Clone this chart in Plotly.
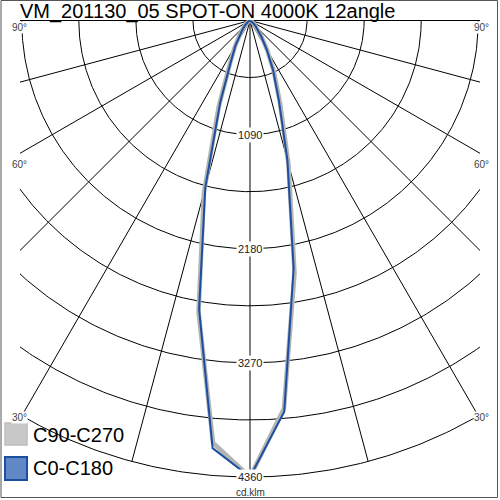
import numpy as np
import plotly.graph_objects as go

# ---------------- data ----------------
title_text = "VM_201130_05 SPOT-ON 4000K 12angle"
angles = [0, 5, 10, 15, 20, 25, 30, 35, 40, 45, 50, 55, 60, 65, 70, 75, 80, 85, 90]
# C0-C180 plane (blue)
c0   = [4360, 3750, 2400, 1380, 800, 520, 320, 190, 120, 75, 45, 28, 18, 10, 6, 4, 2, 1, 0]
c180 = [4360, 4100, 2800, 1650, 830, 430, 280, 170, 110, 70, 42, 26, 16, 10, 6, 4, 2, 1, 0]
# C90-C270 plane (grey)
c90  = [4360, 3720, 2450, 1420, 840, 540, 330, 195, 125, 78, 47, 29, 18, 10, 6, 4, 2, 1, 0]
c270 = [4360, 4050, 2830, 1700, 870, 450, 290, 175, 112, 72, 43, 27, 16, 10, 6, 4, 2, 1, 0]
series_names = ["C90-C270", "C0-C180"]
ring_values = [545, 1090, 1635, 2180, 2725, 3270, 3815, 4360]
ring_labels = ["1090", "2180", "3270", "4360"]
spoke_angles = list(range(-90, 91, 15))
angle_labels = ["90°", "60°", "30°"]
unit_label = "cd.klm"

# ---------------- geometry helpers ----------------
W = H = 500
L, R, T, B = 20, 20, 20, 20
k = 456.5 / 4360.0  # px per cd
xhalf = (W - L - R) / 2 / k
ytop = 0.5 / k
ybot = -(H - T - B - 0.5) / k


def px(xp):
    return (xp - L) / (W - L - R)


def py(yp):
    return 1 - (yp - T) / (H - T - B)


def polar_xy(ang_deg, r):
    a = np.radians(np.asarray(ang_deg, dtype=float))
    r = np.asarray(r, dtype=float)
    return r * np.sin(a), -r * np.cos(a)


fig = go.Figure()

# grid rings
t = np.linspace(-90, 90, 361)
for rv in ring_values:
    gx, gy = polar_xy(t, np.full_like(t, rv))
    fig.add_trace(go.Scatter(x=gx, y=gy, mode="lines", line=dict(color="black", width=1),
                             hoverinfo="skip", showlegend=False))
# spokes
for a in spoke_angles:
    sx, sy = polar_xy([a, a], [0, ring_values[-1]])
    fig.add_trace(go.Scatter(x=sx, y=sy, mode="lines", line=dict(color="black", width=1),
                             hoverinfo="skip", showlegend=False))


def curve(left, right):
    ang = [-a for a in angles[::-1]] + angles[1:]
    vals = left[::-1] + right[1:]
    return polar_xy(ang, vals)


gx, gy = curve(c270, c90)
fig.add_trace(go.Scatter(x=gx, y=gy, mode="lines", name=series_names[0],
                         line=dict(color="#b4b4b4", width=4.5), showlegend=False))
bx, by = curve(c180, c0)
fig.add_trace(go.Scatter(x=bx, y=by, mode="lines", name=series_names[1],
                         line=dict(color="#1c4f9f", width=2), showlegend=False))

annotations = []
for i, lab in enumerate(ring_labels):
    annotations.append(dict(x=0, y=-float(lab), xref="x", yref="y", text=lab, showarrow=False,
                            font=dict(family="Liberation Sans, Arial", size=11, color="#222"),
                            bgcolor="white", borderpad=1))
annotations.append(dict(x=0, y=-4360, xref="x", yref="y", text=unit_label, showarrow=False,
                        yshift=-15, font=dict(family="Liberation Sans, Arial", size=10, color="#333")))

# angle labels
for lab, yp in zip(angle_labels, [21, 158, 424]):
    annotations.append(dict(x=px(11), y=py(yp), xref="paper", yref="paper", text=lab, showarrow=False,
                            font=dict(family="Liberation Sans, Arial", size=10, color="#444"),
                            bgcolor="white", borderpad=0))
    annotations.append(dict(x=px(490), y=py(yp), xref="paper", yref="paper", text=lab, showarrow=False,
                            font=dict(family="Liberation Sans, Arial", size=10, color="#444"),
                            bgcolor="white", borderpad=0))

# title
annotations.append(dict(x=px(19), y=py(11), xref="paper", yref="paper", text=title_text,
                        showarrow=False, xanchor="left", yanchor="middle", borderpad=0,
                        font=dict(family="Liberation Sans, Arial", size=20, color="black")))

# legend texts
annotations.append(dict(x=px(31), y=py(435), xref="paper", yref="paper", text=series_names[0],
                        showarrow=False, xanchor="left", yanchor="middle",
                        font=dict(family="Liberation Sans, Arial", size=20, color="black")))
annotations.append(dict(x=px(31), y=py(468), xref="paper", yref="paper", text=series_names[1],
                        showarrow=False, xanchor="left", yanchor="middle",
                        font=dict(family="Liberation Sans, Arial", size=20, color="black")))

shapes = [
    dict(type="rect", xref="paper", yref="paper", x0=px(5), x1=px(27), y0=py(445), y1=py(423),
         fillcolor="#c8c8c8", line=dict(color="#bdbdbd", width=1.5), layer="above"),
    dict(type="rect", xref="paper", yref="paper", x0=px(5), x1=px(27), y0=py(480), y1=py(457),
         fillcolor="#6088c6", line=dict(color="#1c4f9f", width=2), layer="above"),
    dict(type="rect", xref="paper", yref="paper", x0=px(1), x1=px(497.5), y0=py(497.5), y1=py(0.5),
         fillcolor="rgba(0,0,0,0)", line=dict(color="#555", width=1), layer="above"),
]

fig.update_layout(
    width=W, height=H,
    margin=dict(l=L, r=R, t=T, b=B),
    paper_bgcolor="white", plot_bgcolor="white",
    xaxis=dict(range=[-xhalf, xhalf], visible=False, fixedrange=True),
    yaxis=dict(range=[ybot, ytop], visible=False, fixedrange=True),
    annotations=annotations, shapes=shapes, showlegend=False,
)

fig.write_html("out.html", config={"displayModeBar": False},
               post_script="document.body.style.margin='0';document.body.style.overflow='hidden';")
